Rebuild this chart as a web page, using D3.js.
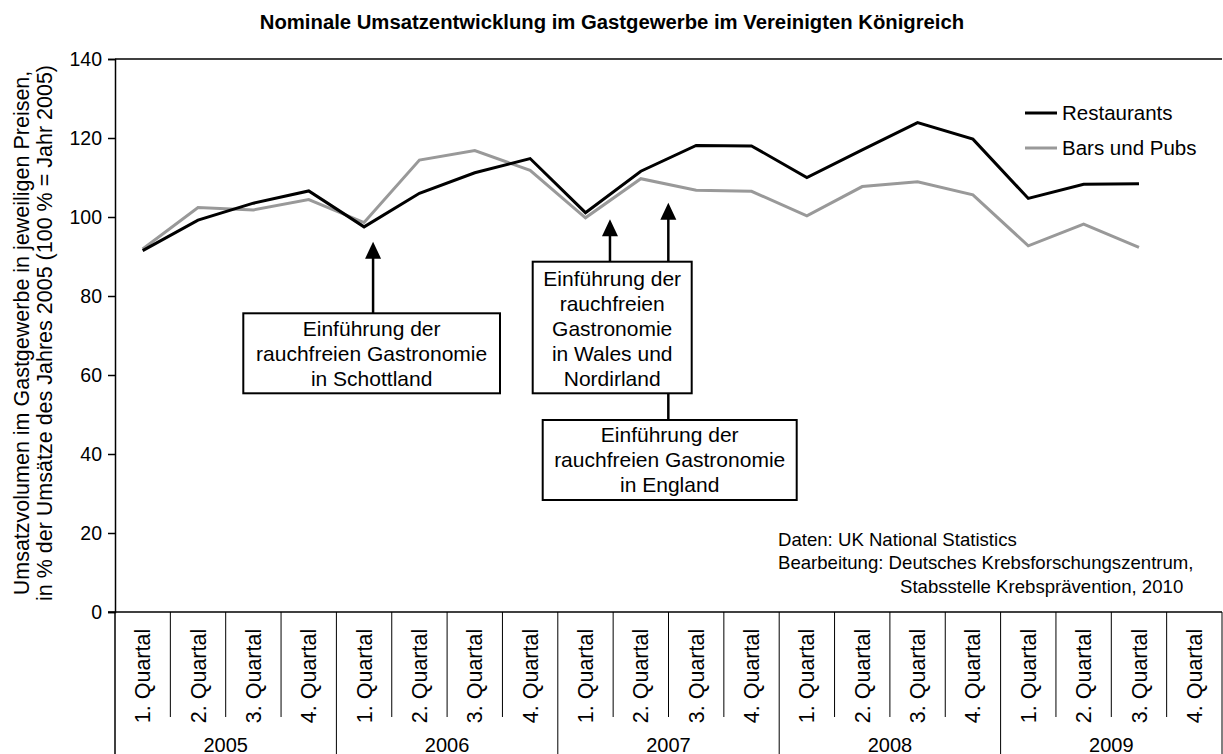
<!DOCTYPE html>
<html>
<head>
<meta charset="utf-8">
<script src="https://cdn.jsdelivr.net/npm/d3@7"></script>
<style>
  body { margin: 0; background: #fff; }
  svg { display: block; }
  text { font-family: Arial, "Liberation Sans", sans-serif; fill: #000; }
</style>
</head>
<body>
<div id="chart"></div>
<script>
// data
var years = ["2005", "2006", "2007", "2008", "2009"];
var quarters = ["1. Quartal", "2. Quartal", "3. Quartal", "4. Quartal"];
var restaurants = [91.5, 99.2, 103.5, 106.6, 97.5, 106.0, 111.2, 114.8, 101.1, 111.6,
                   118.1, 118.0, 110.0, 117.0, 123.9, 119.7, 104.7, 108.3, 108.4, null];
var barsPubs = [91.9, 102.4, 101.8, 104.4, 98.6, 114.4, 116.8, 111.8, 99.8, 109.7,
                106.8, 106.5, 100.3, 107.7, 108.9, 105.6, 92.7, 98.2, 92.3, null];
var yTicks = [0, 20, 40, 60, 80, 100, 120, 140];
var seriesNames = ["Restaurants", "Bars und Pubs"];
var seriesColors = ["#000000", "#999999"];

function init(){
    var w = 1223;
    var h = 754;
    var left = 115, right = 1222, top = 59, bottom = 612;

    var svg = d3.select("#chart")
                .append("svg")
                .attr("width", w)
                .attr("height", h);

    var cats = [];
    years.forEach(function(y){
        quarters.forEach(function(q){ cats.push(y + "|" + q); });
    });

    var x = d3.scaleBand().domain(cats).range([left, right]);
    var y = d3.scaleLinear().domain([0, 140]).range([bottom, top]);
    var cx = function(i){ return x(cats[i]) + x.bandwidth() / 2; };

    // title
    svg.append("text")
        .attr("x", 612).attr("y", 29)
        .attr("text-anchor", "middle")
        .style("font-size", "20.3px")
        .style("font-weight", "bold")
        .text("Nominale Umsatzentwicklung im Gastgewerbe im Vereinigten Königreich");

    // y axis title, two lines
    var yt = svg.append("g").attr("transform", "translate(0," + 333 + ") rotate(-90)");
    yt.append("text").attr("x", 0).attr("y", 28.5)
        .attr("text-anchor", "middle").style("font-size", "21.5px")
        .text("Umsatzvolumen im Gastgewerbe in jeweiligen Preisen,");
    yt.append("text").attr("x", 0).attr("y", 52)
        .attr("text-anchor", "middle").style("font-size", "21.5px")
        .text("in % der Umsätze des Jahres 2005 (100 % = Jahr 2005)");

    // plot frame top line
    svg.append("line")
        .attr("x1", left).attr("x2", right)
        .attr("y1", top).attr("y2", top)
        .attr("stroke", "#000").attr("stroke-width", 1.5);

    // y axis
    var yAxis = svg.append("g")
        .attr("transform", "translate(" + left + ",0)")
        .call(d3.axisLeft(y).tickValues(yTicks).tickSize(7).tickPadding(6));
    yAxis.select(".domain").attr("stroke", "#000").attr("stroke-width", 1.5);
    yAxis.selectAll(".tick line").attr("stroke", "#000").attr("stroke-width", 1.5);
    yAxis.selectAll(".tick text")
        .style("font-size", "19.5px")
        .attr("font-family", null);

    // left axis continues down through the category table
    svg.append("line")
        .attr("x1", left).attr("x2", left)
        .attr("y1", bottom).attr("y2", h)
        .attr("stroke", "#000").attr("stroke-width", 1.5);

    // category table under the plot
    var cat = svg.append("g");
    cats.forEach(function(c, i){
        var x0 = x(c);
        var isYearEdge = (i % 4 === 0);
        if (i > 0) {
            cat.append("line")
                .attr("x1", x0).attr("x2", x0)
                .attr("y1", bottom).attr("y2", isYearEdge ? h : 717)
                .attr("stroke", "#000").attr("stroke-width", 1);
        }
        cat.append("text")
            .attr("transform", "translate(" + cx(i) + ",676) rotate(-90)")
            .attr("text-anchor", "middle")
            .attr("dy", "0.35em")
            .style("font-size", "21.5px")
            .text(quarters[i % 4]);
    });
    cat.append("line")
        .attr("x1", right).attr("x2", right)
        .attr("y1", bottom).attr("y2", h)
        .attr("stroke", "#000").attr("stroke-width", 1);

    years.forEach(function(yr, j){
        var x0 = x(cats[j * 4]);
        var x1 = x(cats[j * 4 + 3]) + x.bandwidth();
        cat.append("text")
            .attr("x", (x0 + x1) / 2).attr("y", 751.5)
            .attr("text-anchor", "middle")
            .style("font-size", "20px")
            .text(yr);
    });

    // x axis line (y = 0)
    svg.append("line")
        .attr("x1", left - 7).attr("x2", right)
        .attr("y1", bottom).attr("y2", bottom)
        .attr("stroke", "#000").attr("stroke-width", 1.5);

    // annotations: arrows and boxes (drawn under the lines)
    var ann = svg.append("g");
    function arrow(xp, tipY, fromY){
        ann.append("line")
            .attr("x1", xp).attr("x2", xp)
            .attr("y1", fromY).attr("y2", tipY + 14)
            .attr("stroke", "#000").attr("stroke-width", 2.5);
        ann.append("path")
            .attr("d", "M" + xp + "," + tipY + " L" + (xp + 8) + "," + (tipY + 17) +
                       " L" + (xp - 8) + "," + (tipY + 17) + " Z")
            .attr("fill", "#000");
    }
    function box(x0, y0, x1, y1, lines, firstBase){
        ann.append("rect")
            .attr("x", x0).attr("y", y0)
            .attr("width", x1 - x0).attr("height", y1 - y0)
            .attr("fill", "#fff").attr("stroke", "#000").attr("stroke-width", 2);
        lines.forEach(function(t, k){
            ann.append("text")
                .attr("x", (x0 + x1) / 2).attr("y", firstBase + k * 25)
                .attr("text-anchor", "middle")
                .style("font-size", "21px")
                .text(t);
        });
    }

    var xScot = cx(4) + 9;
    var xWales = cx(8) + 24.5;
    var xEng = cx(9) + 27.5;

    arrow(xScot, 241.7, 313.3);
    box(243.3, 313.3, 500, 393.3,
        ["Einführung der", "rauchfreien Gastronomie", "in Schottland"], 336);

    arrow(xEng, 202.7, 420);
    arrow(xWales, 219.3, 261.7);
    box(532.7, 261.7, 691.7, 393.3,
        ["Einführung der", "rauchfreien", "Gastronomie", "in Wales und", "Nordirland"], 285.5);
    box(542.7, 420, 796.7, 500,
        ["Einführung der", "rauchfreien Gastronomie", "in England"], 442);

    // series lines
    var line = d3.line()
        .defined(function(d){ return d != null; })
        .x(function(d, i){ return cx(i); })
        .y(function(d){ return y(d); });

    svg.append("path")
        .datum(barsPubs)
        .attr("d", line)
        .attr("fill", "none")
        .attr("stroke", seriesColors[1])
        .attr("stroke-width", 3)
        .attr("stroke-linejoin", "miter");

    svg.append("path")
        .datum(restaurants)
        .attr("d", line)
        .attr("fill", "none")
        .attr("stroke", seriesColors[0])
        .attr("stroke-width", 3)
        .attr("stroke-linejoin", "miter");

    // legend
    var leg = svg.append("g");
    seriesNames.forEach(function(n, i){
        var ly = 113 + i * 35;
        leg.append("line")
            .attr("x1", 1025).attr("x2", 1057)
            .attr("y1", ly).attr("y2", ly)
            .attr("stroke", seriesColors[i]).attr("stroke-width", 3);
        leg.append("text")
            .attr("x", 1062).attr("y", ly)
            .attr("dy", "0.35em")
            .style("font-size", "20.5px")
            .text(n);
    });

    // source note
    var src = svg.append("g").style("font-size", "18.6px");
    src.append("text").attr("x", 778).attr("y", 546).text("Daten: UK National Statistics");
    src.append("text").attr("x", 778).attr("y", 569).text("Bearbeitung: Deutsches Krebsforschungszentrum,");
    src.append("text").attr("x", 900).attr("y", 593).text("Stabsstelle Krebsprävention, 2010");
}
window.onload = init;
</script>
</body>
</html>
